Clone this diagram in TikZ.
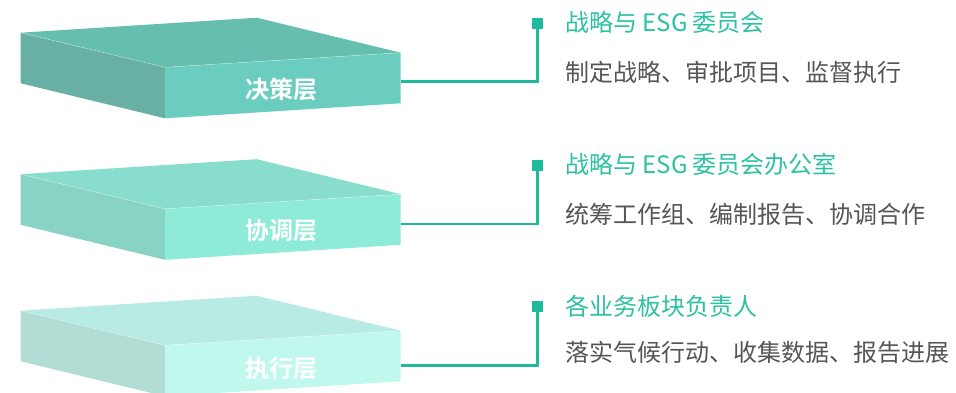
\documentclass[tikz,border=0pt]{standalone}
\usepackage{fontspec}
\setmainfont{Noto Sans CJK SC}
\newfontfamily\cjk{Noto Sans CJK SC}
\newfontfamily\cjkb{Noto Sans CJK SC Bold}
\definecolor{teal1}{HTML}{1DBA9B}
\definecolor{titlec}{HTML}{2EC0A3}
\definecolor{subc}{HTML}{555555}
\definecolor{topA}{HTML}{66BFAE}\definecolor{leftA}{HTML}{68B0A3}\definecolor{frontA}{HTML}{6ACDBF}
\definecolor{topB}{HTML}{88DDCC}\definecolor{leftB}{HTML}{88D3C3}\definecolor{frontB}{HTML}{8DEBD8}
\definecolor{topC}{HTML}{B8EBE3}\definecolor{leftC}{HTML}{B2DDD5}\definecolor{frontC}{HTML}{C0F8EE}
\tikzset{
  layerlabel/.style={text=white, font=\cjkb\fontsize{24}{26}\selectfont, inner sep=0pt},
  titletext/.style={anchor=west, text=titlec, font=\cjk\fontsize{24}{26}\selectfont, inner sep=0pt},
  subtext/.style={anchor=west, text=subc, font=\cjk\fontsize{24}{26}\selectfont, inner sep=0pt},
  marker/.style={fill=teal1, minimum size=11pt, inner sep=0pt, draw=none},
  link/.style={draw=teal1, line width=2.6pt},
}
\newcommand{\slab}[5]{% yoffset, top, left, front, name
  \begin{scope}[yshift=-#1pt]
    \fill[#2] (20.7,32.7) -- (256.7,17.7) -- (400.7,52.7) -- (165,67.3) -- cycle;
    \fill[#3] (20.7,32.7) -- (165,67.3) -- (165,118.3) -- (20.7,83.3) -- cycle;
    \fill[#4] (165,67.3) -- (400.7,52.7) -- (400.7,103.3) -- (165,118.3) -- cycle;
    \draw[white, opacity=0.5, line width=0.4pt] (20.7,32.7) -- (165,67.3) -- (400.7,52.7);
  \end{scope}}
\begin{document}
\begin{tikzpicture}[x=1pt,y=-1pt]
\useasboundingbox (0,0) rectangle (956,393);
\begin{scope}
\clip (0,0) rectangle (956,393);
\slab{0}{topA}{leftA}{frontA}{a}
\slab{141.5}{topB}{leftB}{frontB}{b}
\slab{278}{topC}{leftC}{frontC}{c}
\end{scope}
% labels
\node[layerlabel] (la) at (281,89) {决策层};
\node[layerlabel] (lb) at (281,231) {协调层};
\node[layerlabel] (lc) at (281,368) {执行层};
% connector anchors
\coordinate (ra) at (400.7,81.7);
\coordinate (rb) at (400.7,224);
\coordinate (rc) at (400.7,365.7);
\node[marker] (ma) at (537.2,23.3) {};
\node[marker] (mb) at (537.2,165.5) {};
\node[marker] (mc) at (537.2,306.7) {};
\draw[link] (ra) -| (ma.center);
\draw[link] (rb) -| (mb.center);
\draw[link] (rc) -| (mc.center);
% texts
\node[titletext] (ta) at (565,22.5) {战略与 ESG 委员会};
\node[subtext] (sa) at (565,72.5) {制定战略、审批项目、监督执行};
\node[titletext] (tb) at (565,164) {战略与 ESG 委员会办公室};
\node[subtext] (sb) at (565,214) {统筹工作组、编制报告、协调合作};
\node[titletext] (tc) at (565,306.5) {各业务板块负责人};
\node[subtext] (sc) at (565,352) {落实气候行动、收集数据、报告进展};
\end{tikzpicture}
\end{document}
